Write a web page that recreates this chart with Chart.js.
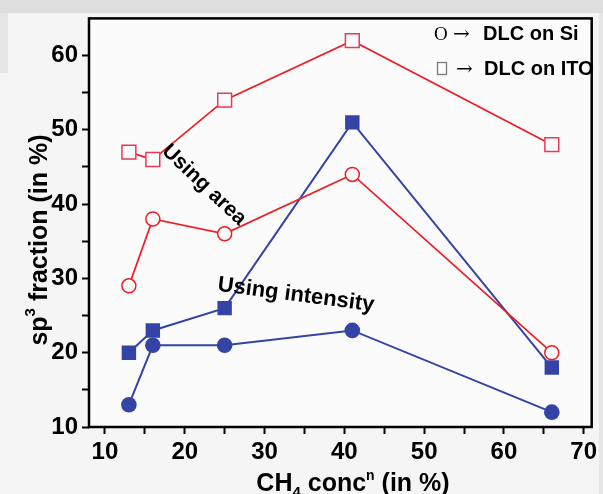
<!DOCTYPE html>
<html>
<head>
<meta charset="utf-8">
<script src="https://cdn.jsdelivr.net/npm/chart.js@4.4.1/dist/chart.umd.min.js"></script>
<style>
  html, body { margin: 0; padding: 0; background: #f3f3f3; }
  #wrap { width: 603px; height: 494px; }
</style>
</head>
<body>
<div id="wrap"><canvas id="sp3" width="603" height="494"></canvas></div>
<script>
(function() {
    'use strict';

    // CH4 concentration (%) and sp3 fraction (%) for each film
    const concentration = [13, 16, 25, 41, 66];
    const itoArea = [47, 46, 54, 62, 48];
    const siArea = [29, 38, 36, 44, 20];
    const itoIntensity = [20, 23, 26, 51, 18];
    const siIntensity = [13, 21, 21, 23, 12];

    const xMajor = [10, 20, 30, 40, 50, 60, 70];
    const xMinor = [15, 25, 35, 45, 55, 65];
    const yMajor = [10, 20, 30, 40, 50, 60];
    const yMinor = [15, 25, 35, 45, 55];

    const RED = '#ef1c24';
    const PINK = '#e63a58';
    const BLUE = '#3444a6';
    const SANS = '"Liberation Sans", Arial, sans-serif';
    const SERIF = '"Liberation Serif", "Times New Roman", serif';

    function pairs(ys) {
        return concentration.map((x, i) => ({ x: x, y: ys[i] }));
    }

    function tickSet(major, minor) {
        return major.concat(minor).sort((a, b) => a - b).map(v => ({ value: v }));
    }

    // paper background, faint grey band along the top edge
    const backdrop = {
        id: 'backdrop',
        beforeDraw(chart) {
            const c = chart.ctx;
            c.save();
            c.fillStyle = '#f5f5f5';
            c.fillRect(0, 0, chart.width, chart.height);
            c.fillStyle = '#dedede';
            c.fillRect(0, 0, chart.width, 13);
            c.fillStyle = '#e6e6e6';
            c.fillRect(0, 13, 8, 60);
            c.fillRect(599, 13, 4, 481);
            c.restore();
            const a = chart.chartArea;
            c.save();
            c.fillStyle = '#fbfbfb';
            c.fillRect(a.left, a.top, a.right - a.left, a.bottom - a.top);
            c.restore();
        }
    };

    // frame, axis titles, annotations and the symbol key
    const decorations = {
        id: 'decorations',
        afterDraw(chart) {
            const c = chart.ctx;
            const a = chart.chartArea;
            c.save();
            c.strokeStyle = '#000';
            c.lineWidth = 2.5;
            c.strokeRect(a.left, a.top, a.right - a.left, a.bottom - a.top);

            c.fillStyle = '#000';
            c.textBaseline = 'alphabetic';

            // x title: CH4 conc^n (in %)
            const xParts = [
                { t: 'CH', size: 25, dy: 0 },
                { t: '4', size: 15, dy: 6 },
                { t: ' conc', size: 25, dy: 0 },
                { t: 'n', size: 14, dy: -11 },
                { t: ' (in %)', size: 25, dy: 0 }
            ];
            drawParts(c, xParts, 353, 491);

            // y title: sp^3 fraction (in %)
            c.save();
            c.translate(47, 240);
            c.rotate(-Math.PI / 2);
            const yParts = [
                { t: 'sp', size: 25, dy: 0 },
                { t: '3', size: 15, dy: -12 },
                { t: ' fraction (in %)', size: 25, dy: 0 }
            ];
            drawParts(c, yParts, 0, 0);
            c.restore();

            // annotations
            c.textAlign = 'center';
            c.textBaseline = 'middle';
            c.font = 'bold 21px ' + SANS;
            c.save();
            c.translate(204, 185);
            c.rotate(43.5 * Math.PI / 180);
            c.fillText('Using area', 0, 0);
            c.restore();

            c.font = 'bold 22px ' + SANS;
            c.save();
            c.translate(296, 295);
            c.rotate(7.5 * Math.PI / 180);
            c.fillText('Using intensity', 0, 0);
            c.restore();

            // symbol key
            c.textAlign = 'left';
            c.textBaseline = 'alphabetic';
            c.font = '19px ' + SERIF;
            c.fillText('O', 434, 40);
            c.font = '20px "DejaVu Serif", serif';
            c.fillText('\u2192', 453, 40);
            c.fillText('\u2192', 456, 75);
            c.strokeStyle = '#7a7a7a';
            c.lineWidth = 1.3;
            c.strokeRect(437.5, 62.5, 9, 12);
            c.font = 'bold 20px ' + SANS;
            c.fillText('DLC on Si', 483, 40);
            c.fillText('DLC on ITO', 484, 75);
            c.restore();
        }
    };

    function drawParts(c, parts, cx, baseline) {
        let total = 0;
        parts.forEach(p => {
            c.font = 'bold ' + p.size + 'px ' + SANS;
            p.w = c.measureText(p.t).width;
            total += p.w;
        });
        let x = cx - total / 2;
        c.textAlign = 'left';
        parts.forEach(p => {
            c.font = 'bold ' + p.size + 'px ' + SANS;
            c.fillText(p.t, x, baseline + p.dy);
            x += p.w;
        });
    }

    const tickFont = { family: SANS, size: 24, weight: 'bold' };

    new Chart(document.getElementById('sp3'), {
        type: 'scatter',
        data: {
            datasets: [
                {
                    label: 'DLC on ITO (area)',
                    data: pairs(itoArea),
                    showLine: true,
                    borderColor: RED,
                    borderWidth: 1.7,
                    pointStyle: 'rect',
                    pointRadius: 9.8,
                    pointBorderColor: PINK,
                    pointBorderWidth: 1.5,
                    pointBackgroundColor: '#fbfbfb'
                },
                {
                    label: 'DLC on Si (area)',
                    data: pairs(siArea),
                    showLine: true,
                    borderColor: RED,
                    borderWidth: 1.7,
                    pointStyle: 'circle',
                    pointRadius: 7,
                    pointBorderColor: RED,
                    pointBorderWidth: 1.5,
                    pointBackgroundColor: '#fbfbfb'
                },
                {
                    label: 'DLC on ITO (intensity)',
                    data: pairs(itoIntensity),
                    showLine: true,
                    borderColor: BLUE,
                    borderWidth: 2,
                    pointStyle: 'rect',
                    pointRadius: 10.2,
                    pointBorderWidth: 0,
                    pointBackgroundColor: BLUE
                },
                {
                    label: 'DLC on Si (intensity)',
                    data: pairs(siIntensity),
                    showLine: true,
                    borderColor: BLUE,
                    borderWidth: 2,
                    pointStyle: 'circle',
                    pointRadius: 7.8,
                    pointBorderWidth: 0,
                    pointBackgroundColor: BLUE
                }
            ]
        },
        options: {
            responsive: false,
            animation: false,
            layout: { padding: { top: 15, right: 7, left: 0, bottom: 0 } },
            plugins: {
                legend: { display: false },
                tooltip: { enabled: false }
            },
            scales: {
                x: {
                    type: 'linear',
                    min: 8,
                    max: 71,
                    afterFit: s => { s.height = 67; },
                    afterBuildTicks: s => { s.ticks = tickSet(xMajor, xMinor); },
                    border: { display: false },
                    grid: {
                        drawOnChartArea: false,
                        drawTicks: true,
                        tickLength: 7,
                        tickWidth: 2,
                        tickColor: '#000'
                    },
                    ticks: {
                        color: '#000',
                        font: tickFont,
                        padding: 4,
                        maxRotation: 0,
                        autoSkip: false,
                        callback: v => xMajor.includes(v) ? String(v) : ''
                    }
                },
                y: {
                    type: 'linear',
                    min: 10,
                    max: 65,
                    afterFit: s => { s.width = 89; },
                    afterBuildTicks: s => { s.ticks = tickSet(yMajor, yMinor); },
                    border: { display: false },
                    grid: {
                        drawOnChartArea: false,
                        drawTicks: true,
                        tickLength: 7,
                        tickWidth: 2,
                        tickColor: '#000'
                    },
                    ticks: {
                        color: '#000',
                        font: tickFont,
                        padding: 4,
                        autoSkip: false,
                        callback: v => yMajor.includes(v) ? String(v) : ''
                    }
                }
            }
        },
        plugins: [backdrop, decorations]
    });
})();
</script>
</body>
</html>
